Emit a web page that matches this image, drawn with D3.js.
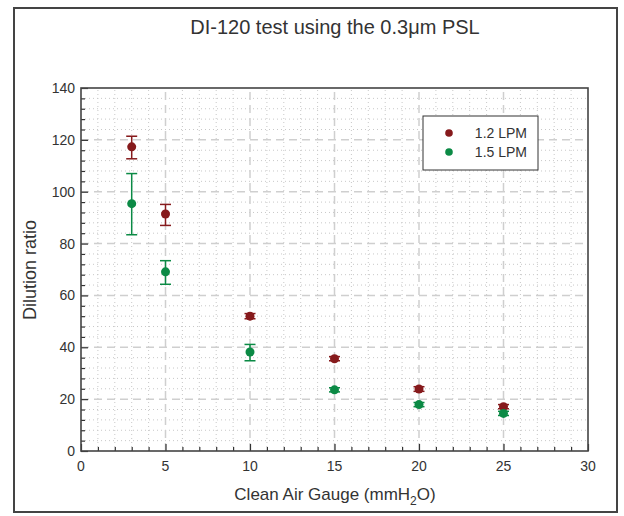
<!DOCTYPE html>
<html>
<head>
<meta charset="utf-8">
<script src="https://cdn.jsdelivr.net/npm/d3@7"></script>
<style>
body{margin:0;background:#fff;}
text{font-family:Arial,"Liberation Sans",sans-serif;fill:#333;}
</style>
</head>
<body>
<script>
var gauge = [3,5,10,15,20,25];
var series = ['1.2 LPM','1.5 LPM'];
var colors = ['#861a1c','#0b8a45'];
var ratio12 = [117.3,91.4,52.0,35.6,23.9,17.1];
var lo12 = [112.7,87.0,51.0,34.8,23.0,16.3];
var hi12 = [121.4,95.1,53.0,36.4,24.8,17.9];
var ratio15 = [95.4,69.1,38.2,23.6,17.9,14.5];
var lo15 = [83.4,64.3,34.8,22.8,17.1,13.7];
var hi15 = [107.0,73.4,41.1,24.4,18.7,15.3];
var xTicks = [0,5,10,15,20,25,30];
var yTicks = [0,20,40,60,80,100,120,140];

var W = 624, H = 516;
var svg = d3.select('body').append('svg').attr('width',W).attr('height',H);

// outer frame
svg.append('rect').attr('x',14).attr('y',8).attr('width',603).attr('height',504)
  .style('fill','none').style('stroke','#444').style('stroke-width',2);

var x = d3.scaleLinear().domain([0,30]).range([81,588]);
var y = d3.scaleLinear().domain([0,140]).range([451,88]);

var grid = svg.append('g');
// minor grid dotted
grid.selectAll('.mx').data(d3.range(1,30).filter(function(d){return d%5!=0;})).enter().append('line')
  .attr('x1',function(d){return x(d);}).attr('x2',function(d){return x(d);})
  .attr('y1',y(0)).attr('y2',y(140))
  .style('stroke','#c8c8c8').style('stroke-dasharray','1,3');
grid.selectAll('.my').data(d3.range(4,140,4).filter(function(d){return d%20!=0;})).enter().append('line')
  .attr('y1',function(d){return y(d);}).attr('y2',function(d){return y(d);})
  .attr('x1',x(0)).attr('x2',x(30))
  .style('stroke','#c8c8c8').style('stroke-dasharray','1,3');
// major grid dashed
grid.selectAll('.Mx').data(xTicks.slice(1,-1)).enter().append('line')
  .attr('x1',function(d){return x(d);}).attr('x2',function(d){return x(d);})
  .attr('y1',y(0)).attr('y2',y(140))
  .style('stroke','#cfcfcf').style('stroke-width',1.5).style('stroke-dasharray','8,5');
grid.selectAll('.My').data(yTicks.slice(1,-1)).enter().append('line')
  .attr('y1',function(d){return y(d);}).attr('y2',function(d){return y(d);})
  .attr('x1',x(0)).attr('x2',x(30))
  .style('stroke','#cfcfcf').style('stroke-width',1.5).style('stroke-dasharray','8,5');

// axes (ticks inward)
var xAxis = svg.append('g').attr('transform','translate(0,'+y(0)+')')
  .call(d3.axisTop(x).tickValues(d3.range(0,31,1)).tickSize(4).tickFormat(''));
xAxis.selectAll('.tick line').attr('y2',function(d){return d%5==0?-7:-4;});
var yAxis = svg.append('g').attr('transform','translate('+x(0)+',0)')
  .call(d3.axisRight(y).tickValues(d3.range(0,141,4)).tickSize(4).tickFormat(''));
yAxis.selectAll('.tick line').attr('x2',function(d){return d%20==0?7:4;});
svg.selectAll('.domain').remove();
svg.selectAll('.tick line').style('stroke','#333').style('stroke-width',1.2);

// plot border
svg.append('rect').attr('x',x(0)).attr('y',y(140)).attr('width',x(30)-x(0)).attr('height',y(0)-y(140))
  .style('fill','none').style('stroke','#444').style('stroke-width',1.6);

// tick labels
svg.selectAll('.xl').data(xTicks).enter().append('text')
  .attr('x',function(d){return x(d);}).attr('y',y(0)+20)
  .attr('text-anchor','middle').style('font-size','14px').text(function(d){return d;});
svg.selectAll('.yl').data(yTicks).enter().append('text')
  .attr('x',x(0)-6).attr('y',function(d){return y(d)+5;})
  .attr('text-anchor','end').style('font-size','14px').text(function(d){return d;});

// titles
svg.append('text').attr('x',335).attr('y',34).attr('text-anchor','middle').style('font-size','20px')
  .text('DI-120 test using the 0.3\u03bcm PSL');
var xt = svg.append('text').attr('x',335).attr('y',500).attr('text-anchor','middle').style('font-size','17px');
xt.append('tspan').text('Clean Air Gauge (mmH');
xt.append('tspan').attr('dy',5).style('font-size','12px').text('2');
xt.append('tspan').attr('dy',-5).text('O)');
svg.append('text').attr('transform','translate(36,270) rotate(-90)').attr('text-anchor','middle')
  .style('font-size','18px').text('Dilution ratio');

// data
var data = [
  {vals:ratio12,lo:lo12,hi:hi12},
  {vals:ratio15,lo:lo15,hi:hi15}
];
data.forEach(function(s,k){
  var g = svg.append('g').attr('class','series'+k);
  var pts = gauge.map(function(g0,i){return {x:g0,v:s.vals[i],lo:s.lo[i],hi:s.hi[i]};});
  g.selectAll('.err').data(pts).enter().append('line')
    .attr('x1',function(d){return x(d.x);}).attr('x2',function(d){return x(d.x);})
    .attr('y1',function(d){return y(d.lo);}).attr('y2',function(d){return y(d.hi);})
    .style('stroke',colors[k]).style('stroke-width',1.5);
  ['lo','hi'].forEach(function(key){
    g.selectAll('.cap'+key).data(pts).enter().append('line')
      .attr('x1',function(d){return x(d.x)-5.5;}).attr('x2',function(d){return x(d.x)+5.5;})
      .attr('y1',function(d){return y(d[key]);}).attr('y2',function(d){return y(d[key]);})
      .style('stroke',colors[k]).style('stroke-width',1.5);
  });
  g.selectAll('circle').data(pts).enter().append('circle')
    .attr('cx',function(d){return x(d.x);}).attr('cy',function(d){return y(d.v);})
    .attr('r',4.5).style('fill',colors[k]);
});

// legend
var leg = svg.append('g');
leg.append('rect').attr('x',423).attr('y',116).attr('width',115).attr('height',54)
  .style('fill','#fff').style('stroke','#333').style('stroke-width',1);
series.forEach(function(s,i){
  leg.append('circle').attr('cx',449).attr('cy',133+i*19).attr('r',3.8).style('fill',colors[i]);
  leg.append('text').attr('x',527).attr('y',138+i*19).attr('text-anchor','end')
    .style('font-size','14px').text(s);
});
</script>
</body>
</html>
